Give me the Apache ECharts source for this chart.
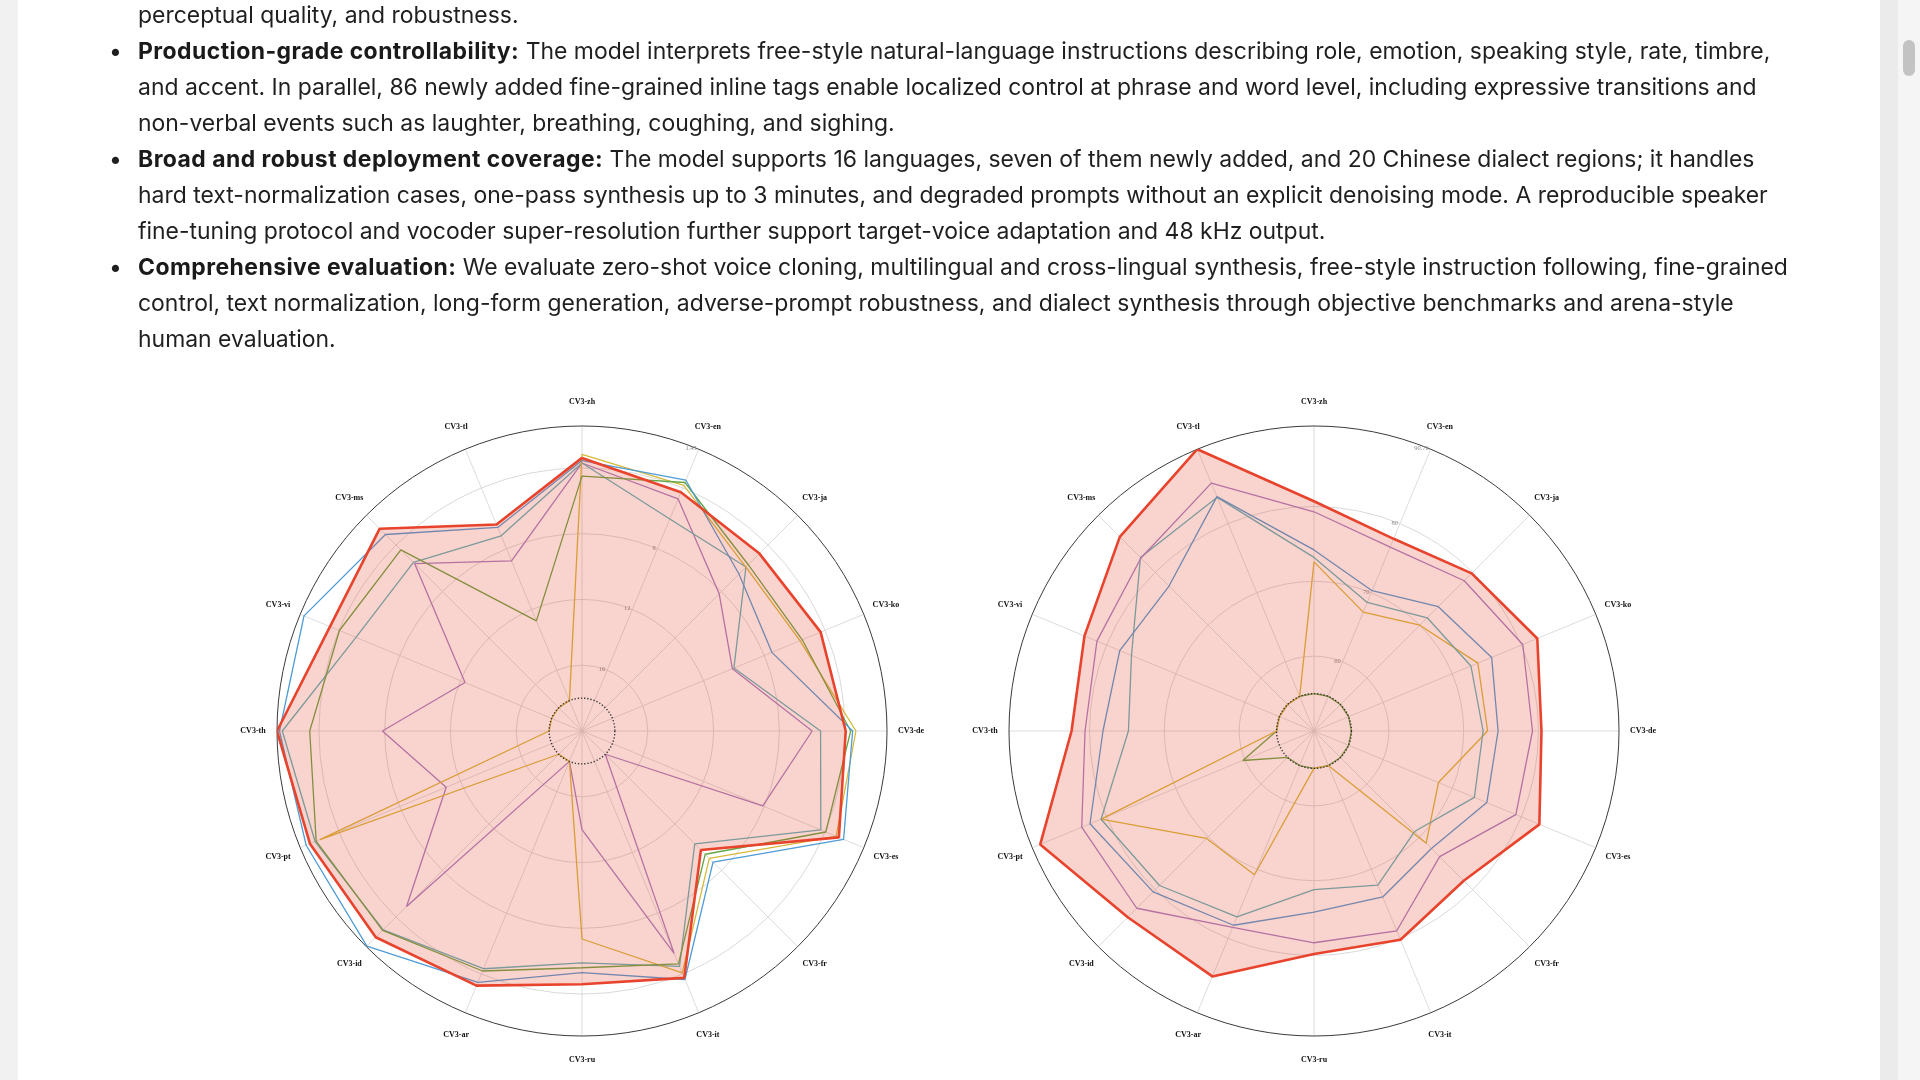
<!DOCTYPE html>
<html>
<head>
<meta charset="utf-8">
<script src="https://cdn.jsdelivr.net/npm/echarts@6/dist/echarts.min.js"></script>
<style>
html,body{margin:0;padding:0;width:1920px;height:1080px;overflow:hidden;background:#ffffff;}
#lstrip{position:absolute;left:0;top:0;width:18px;height:1080px;background:#f1f1f1;}
#rstrip1{position:absolute;left:1880px;top:0;width:18px;height:1080px;background:#ebebeb;}
#rstrip2{position:absolute;left:1898px;top:0;width:22px;height:1080px;background:#f5f5f5;}
#thumb{position:absolute;left:1903px;top:40px;width:12px;height:36px;border-radius:6px;background:#c3c3c3;}
#chart{position:absolute;left:0;top:0;width:1920px;height:1080px;}
#text{position:absolute;left:0;top:-3px;width:1880px;color:#1f1f1f;font-family:Inter,"Liberation Sans",sans-serif;}
.ln{height:36px;line-height:36px;white-space:nowrap;padding-left:138px;position:relative;}
.bl{position:absolute;left:109px;top:0;}
b{font-weight:700;color:#1a1a1a;letter-spacing:0.45px;}
</style>
</head>
<body>
<div id="lstrip"></div>
<div id="rstrip1"></div>
<div id="rstrip2"></div>
<div id="thumb"></div>
<div id="chart"></div>
<div id="text"></div>
<script>
// ---------- text ----------
const textLines = [
  [false, "", "perceptual quality, and robustness."],
  [true, "Production-grade controllability:", " The model interprets free-style natural-language instructions describing role, emotion, speaking style, rate, timbre,"],
  [false, "", "and accent. In parallel, 86 newly added fine-grained inline tags enable localized control at phrase and word level, including expressive transitions and"],
  [false, "", "non-verbal events such as laughter, breathing, coughing, and sighing."],
  [true, "Broad and robust deployment coverage:", " The model supports 16 languages, seven of them newly added, and 20 Chinese dialect regions; it handles"],
  [false, "", "hard text-normalization cases, one-pass synthesis up to 3 minutes, and degraded prompts without an explicit denoising mode. A reproducible speaker"],
  [false, "", "fine-tuning protocol and vocoder super-resolution further support target-voice adaptation and 48 kHz output."],
  [true, "Comprehensive evaluation:", " We evaluate zero-shot voice cloning, multilingual and cross-lingual synthesis, free-style instruction following, fine-grained"],
  [false, "", "control, text normalization, long-form generation, adverse-prompt robustness, and dialect synthesis through objective benchmarks and arena-style"],
  [false, "", "human evaluation."]
];

// ---------- chart data ----------
const categories = ['CV3-zh','CV3-en','CV3-ja','CV3-ko','CV3-de','CV3-es','CV3-fr','CV3-it','CV3-ru','CV3-ar','CV3-id','CV3-pt','CV3-th','CV3-vi','CV3-ms','CV3-tl'];

// left chart (lower is better, centre = 20, outer = 1.45, floor 18)
const leftRadiusTicks = [4, 8, 12, 16];
const leftRadiusLabels = [1.45, 8, 12, 16];
const leftRed    = [3.39, 4.28, 4.74, 4.29, 3.96, 3.09, 9.77, 3.75, 4.60, 3.24, 2.26, 2.09, 1.45, 3.41, 2.60, 6.41];
const leftBlue   = [3.55, 3.49, 6.50, 7.50, 3.54, 2.78, 8.73, 3.64, 5.30, 3.45, 1.50, 1.84, 1.60, 1.70, 3.10, 6.60];
const leftGreen  = [4.50, 3.64, 5.70, 5.50, 3.66, 3.95, 9.40, 4.67, 5.60, 4.20, 2.85, 2.50, 3.44, 4.03, 4.42, 12.75];
const leftYellow = [3.17, 3.83, 5.90, 5.65, 3.34, 3.27, 9.05, 4.07, 7.35, 18, 18, 2.75, 18, 18, 18, 18];
const leftTeal   = [3.70, 6.04, 5.90, 10.0, 5.49, 4.28, 10.3, 4.50, 5.90, 4.35, 2.90, 2.43, 1.77, 5.12, 5.50, 7.15];
const leftPurple = [3.70, 4.72, 8.20, 10.1, 6.00, 8.10, 18, 5.36, 14.0, 18, 4.91, 11.06, 7.86, 12.3, 5.60, 8.80];

// right chart (higher is better, centre = 50, outer = 90.76, floor 55)
const rightRadiusTicks = [60, 70, 80];
const rightRadiusLabels = [60, 70, 80, 90.76];
const rightRed    = [80.7, 77.8, 79.8, 82.3, 80.4, 82.6, 78.3, 80.2, 79.8, 85.5, 85.2, 89.6, 82.4, 83.2, 86.7, 90.76];
const rightPurple = [79.3, 76.6, 78.4, 80.2, 79.2, 79.2, 73.75, 78.9, 78.3, 78.4, 83.5, 83.6, 80.6, 81.4, 82.7, 85.85];
const rightBlue   = [74.2, 70.3, 73.5, 75.7, 74.6, 75.0, 72.2, 74.0, 74.2, 78.1, 80.4, 82.4, 78.2, 78.1, 77.4, 83.9];
const rightTeal   = [73.2, 68.6, 71.4, 72.7, 72.6, 73.2, 69.0, 72.3, 71.2, 76.9, 79.2, 80.8, 74.8, 76.4, 82.8, 83.8];
const rightYellow = [72.6, 67.2, 70.0, 73.7, 73.2, 68.0, 71.2, 55, 55, 70.8, 70.3, 80.8, 55, 55, 55, 55];
const rightGreen  = [55, 55, 55, 55, 55, 55, 55, 55, 55, 55, 55, 60.3, 55, 55, 55, 55];

// ---------- build text ----------
(function(){
  const box = document.getElementById('text');
  const ctx = document.createElement('canvas').getContext('2d');
  ctx.font = '24px Inter';
  const w = ctx.measureText(textLines[5][2]).width;
  let fs = 24 * 1631 / w;
  if (!(fs > 18 && fs < 30)) fs = 23;
  box.style.fontSize = fs.toFixed(2) + 'px';
  textLines.forEach(([bullet, bold, rest]) => {
    const d = document.createElement('div');
    d.className = 'ln';
    if (bullet) {
      const s = document.createElement('span'); s.className = 'bl'; s.textContent = '\u2022'; d.appendChild(s);
    }
    if (bold) { const b = document.createElement('b'); b.textContent = bold; d.appendChild(b); }
    d.appendChild(document.createTextNode(rest));
    box.appendChild(d);
  });
})();

// ---------- chart ----------
const COLORS = {red:'#e8432c', blue:'#4f9bd6', green:'#66a545', yellow:'#d6b83a', teal:'#5cb3bd', purple:'#a57fc7'};
const RED_FILL = 'rgba(232,72,48,0.24)';
const LABEL_FACTOR = 329 / 305; // category labels sit just outside the outer ring

function angleOf(i){ return i === 0 ? 16 : i; }
function toPolar(vals){
  const pts = vals.map((v, i) => [v, angleOf(i)]);
  pts.push(pts[0]);
  return pts;
}

function lineSeries(polarIndex, vals, color, width, z){
  return {type:'line', coordinateSystem:'polar', polarIndex, data:toPolar(vals), symbol:'none',
          silent:true, z, lineStyle:{color, width}, clip:false};
}
function fillSeries(polarIndex, vals){
  return {type:'custom', coordinateSystem:'polar', polarIndex, silent:true, z:3, clip:false,
    data:[[vals[0], 16]],
    renderItem:(params, api) => {
      const pts = toPolar(vals).map(p => api.coord(p));
      return {type:'polygon', shape:{points:pts}, style:{fill:RED_FILL}};
    }};
}
function floorSeries(polarIndex, centerVal, floorVal){
  return {type:'custom', coordinateSystem:'polar', polarIndex, silent:true, z:6, clip:false,
    data:[[floorVal, 1]],
    renderItem:(params, api) => {
      const c = api.coord([centerVal, 1]);
      const p = api.coord([floorVal, 1]);
      const r = Math.hypot(p[0]-c[0], p[1]-c[1]);
      return {type:'circle', shape:{cx:c[0], cy:c[1], r}, style:{fill:'none', stroke:'#333', lineWidth:1.4, lineDash:[1.3,1.9]}};
    }};
}
function labelSeries(polarIndex, centerVal, outerVal){
  return {type:'custom', coordinateSystem:'polar', polarIndex, silent:true, z:7, clip:false,
    data: categories.map((c, i) => [outerVal, angleOf(i)]),
    renderItem:(params, api) => {
      const i = params.dataIndex;
      const c = api.coord([centerVal, angleOf(i)]);
      const p = api.coord([outerVal, angleOf(i)]);
      const x = c[0] + (p[0]-c[0]) * LABEL_FACTOR;
      const y = c[1] + (p[1]-c[1]) * LABEL_FACTOR;
      return {type:'text', x, y, style:{text:categories[i], fill:'#111',
        font:'bold 8px "Liberation Serif", "DejaVu Serif", serif',
        align:'center', verticalAlign:'middle', textAlign:'center', textVerticalAlign:'middle'}};
    }};
}

function angleAxis(polarIndex){
  return {polarIndex, type:'value', min:1, max:17, interval:1, startAngle:67.5, clockwise:true,
    axisLine:{show:true, lineStyle:{color:'#3a3a3a', width:1}},
    axisTick:{show:false},
    axisLabel:{show:false},
    splitLine:{show:true, lineStyle:{color:'#d3d3d3', width:0.8}}};
}
function radiusAxis(polarIndex, min, max, inverse, ticks, labels){
  return {polarIndex, type:'value', min, max, inverse,
    axisLine:{show:false},
    axisTick:{show:false, customValues:ticks},
    axisLabel:{show:true, customValues:labels, fontSize:6.5, color:'#8a8a8a', margin:2,
      fontFamily:'"Liberation Serif", serif'},
    splitLine:{show:true, lineStyle:{color:'#cfcfcf', width:0.8}}};
}

const chart = echarts.init(document.getElementById('chart'), null, {renderer:'canvas'});
chart.setOption({
  animation:false,
  backgroundColor:'transparent',
  polar:[{center:[582,731], radius:305}, {center:[1314,731], radius:305}],
  angleAxis:[angleAxis(0), angleAxis(1)],
  radiusAxis:[
    radiusAxis(0, 1.45, 20, true, leftRadiusTicks, leftRadiusLabels),
    radiusAxis(1, 50, 90.76, false, rightRadiusTicks, rightRadiusLabels)
  ],
  series:[
    lineSeries(0, leftPurple, COLORS.purple, 1.3, 2),
    lineSeries(0, leftTeal, COLORS.teal, 1.3, 2),
    lineSeries(0, leftYellow, COLORS.yellow, 1.3, 2),
    lineSeries(0, leftGreen, COLORS.green, 1.3, 2),
    lineSeries(0, leftBlue, COLORS.blue, 1.3, 2),
    fillSeries(0, leftRed),
    lineSeries(0, leftRed, COLORS.red, 2.6, 4),
    floorSeries(0, 20, 18),
    labelSeries(0, 20, 1.45),

    lineSeries(1, rightGreen, COLORS.green, 1.3, 2),
    lineSeries(1, rightYellow, COLORS.yellow, 1.3, 2),
    lineSeries(1, rightTeal, COLORS.teal, 1.3, 2),
    lineSeries(1, rightBlue, COLORS.blue, 1.3, 2),
    lineSeries(1, rightPurple, COLORS.purple, 1.3, 2),
    fillSeries(1, rightRed),
    lineSeries(1, rightRed, COLORS.red, 2.6, 4),
    floorSeries(1, 50, 55),
    labelSeries(1, 50, 90.76)
  ]
});
</script>
</body>
</html>
